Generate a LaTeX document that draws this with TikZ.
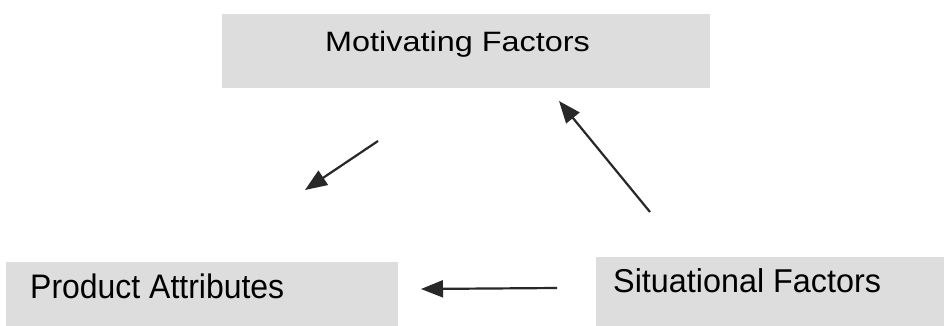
\documentclass[tikz,border=0pt]{standalone}
\usepackage{fontspec}
\setmainfont{Liberation Sans}
\usetikzlibrary{arrows.meta}
\definecolor{boxfill}{RGB}{221,221,221}
\definecolor{ink}{RGB}{40,40,40}
\begin{document}
\begin{tikzpicture}[x=1pt,y=-1pt,
  box/.style={fill=boxfill,draw=none,inner sep=0pt,anchor=north west},
  lbl/.style={text=black,inner sep=0pt,anchor=base west},
  conn/.style={draw=ink,line width=2.2pt,-{Triangle[length=22pt,width=17pt]}}]
\useasboundingbox[fill=white] (0,0) rectangle (944,326);
% boxes
\node[box,minimum width=488pt,minimum height=74pt] (mfbox) at (222,14) {};
\node[box,minimum width=392pt,minimum height=64pt] (pabox) at (6,262) {};
\node[box,minimum width=348pt,minimum height=69pt] (sfbox) at (596,257) {};
% labels
\node[lbl] (mf) at (325,52) {\scalebox{1.157}[1]{\fontsize{28}{32}\selectfont Motivating Factors}};
\node[lbl] (pa) at (30,298) {\scalebox{0.94}[1]{\fontsize{34}{38}\selectfont Product Attributes}};
\node[lbl] (sf) at (613,292) {\scalebox{0.98}[1]{\fontsize{33}{37}\selectfont Situational Factors}};
% connector ends
\coordinate (a1s) at (378,141);
\coordinate (a1e) at (305,190);
\coordinate (a2s) at (650,212);
\coordinate (a2e) at (559,101);
\coordinate (a3s) at (557,288);
\coordinate (a3e) at (421,289);
\draw[conn] (a1s) -- (a1e);
\draw[conn] (a2s) -- (a2e);
\draw[conn] (a3s) -- (a3e);
\end{tikzpicture}
\end{document}
